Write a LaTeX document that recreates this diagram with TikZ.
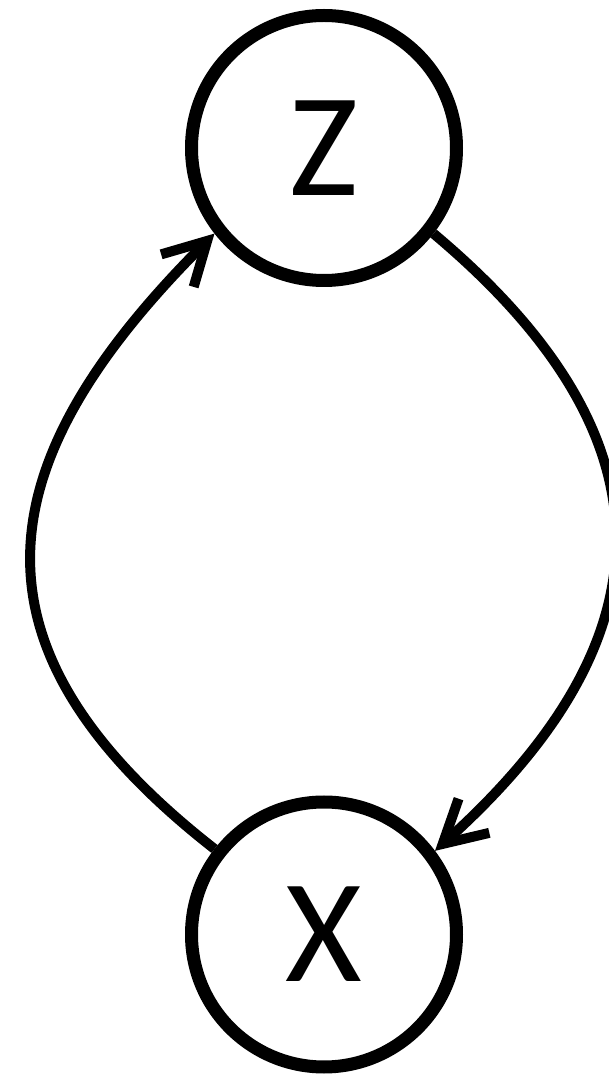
\documentclass[tikz,border=0pt]{standalone}
\usepackage{fontspec}
\setmainfont{Carlito}
\usetikzlibrary{arrows.meta}

\begin{document}
\begin{tikzpicture}[>={Straight Barb[sharp,length=0.84cm,width=0.92cm]},
  var/.style={circle, draw, line width=0.26cm, minimum size=5.3cm, inner sep=0pt,
    font=\fontsize{84}{90}\selectfont},
  edge/.style={->, line width=0.2cm}]
  \useasboundingbox (0,0) rectangle (12.18,21.52);
  \node[var] (z) at (6.48,18.56) {Z};
  \node[var] (x) at (6.48,2.83) {X};

  \draw[edge] (x.142) to[out=142, in=225, looseness=1.36] (z.218);
  \draw[edge] (z.-38) to[out=-40, in=42, looseness=1.32] (x.37);
\end{tikzpicture}
\end{document}
